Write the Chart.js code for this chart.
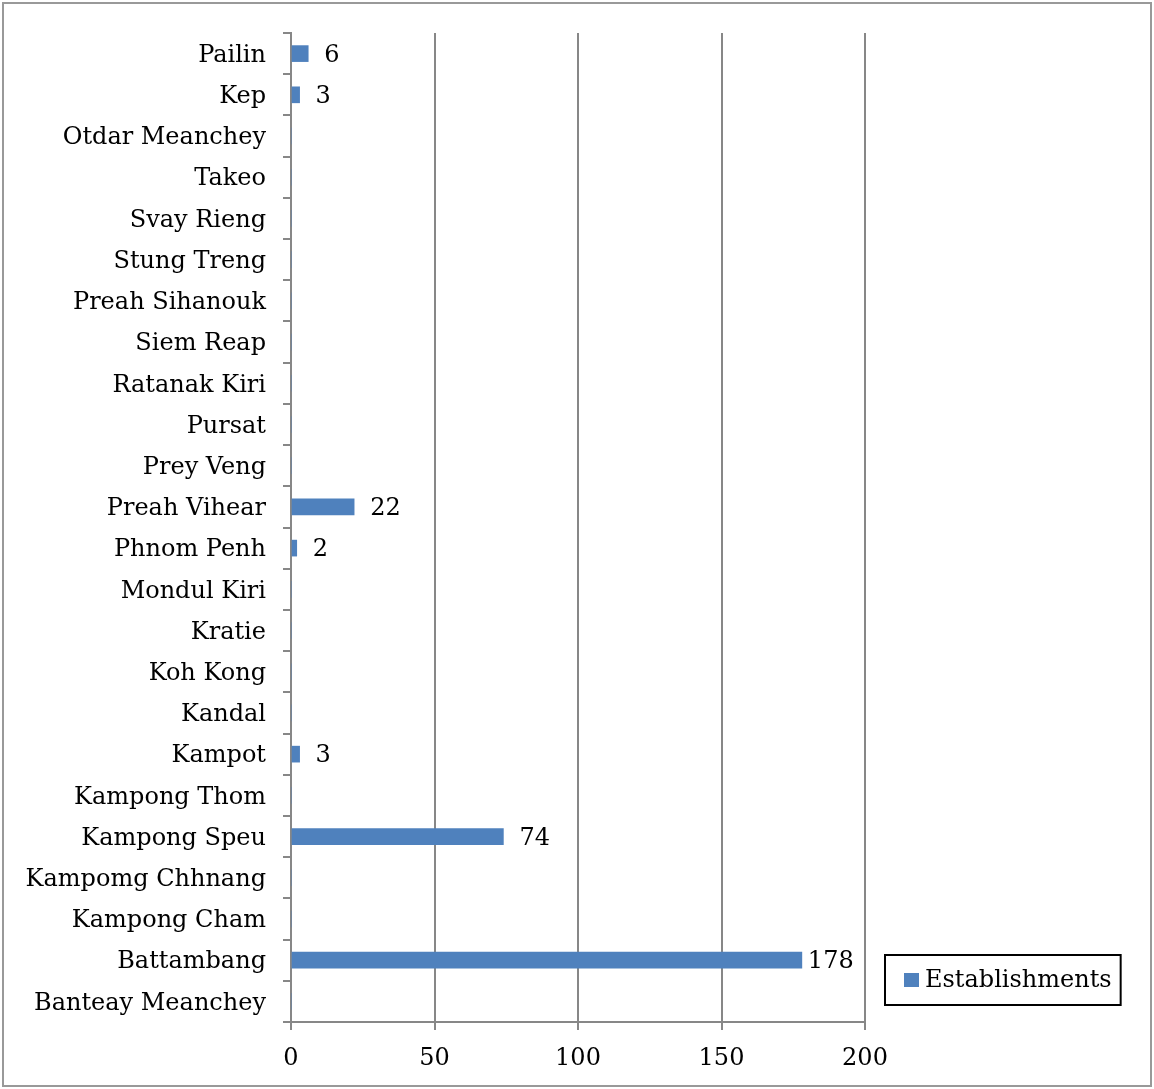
<!DOCTYPE html>
<html>
<head>
<meta charset="utf-8">
<script src="https://cdn.jsdelivr.net/npm/chart.js@4/dist/chart.umd.min.js"></script>
<style>
html,body{margin:0;padding:0;background:#fff;}
#wrap{position:relative;width:1154px;height:1089px;}
</style>
</head>
<body>
<div id="wrap"><canvas id="c" width="1154" height="1089"></canvas></div>
<script>
const provinces = ["Banteay Meanchey","Battambang","Kampong Cham","Kampomg Chhnang","Kampong Speu","Kampong Thom","Kampot","Kandal","Koh Kong","Kratie","Mondul Kiri","Phnom Penh","Preah Vihear","Prey Veng","Pursat","Ratanak Kiri","Siem Reap","Preah Sihanouk","Stung Treng","Svay Rieng","Takeo","Otdar Meanchey","Kep","Pailin"];
const establishments = [0,178,0,0,74,0,3,0,0,0,0,2,22,0,0,0,0,0,0,0,0,0,3,6];
const seriesName = "Establishments";
const xTicks = [0,50,100,150,200];

const FONT = "'DejaVu Serif', serif";
const FSIZE = 24;
const GRID = "#878787";
const BAR = "#4F81BD";

const decor = {
  id: 'decor',
  beforeDraw(chart){
    const ctx = chart.ctx;
    ctx.save();
    ctx.fillStyle = '#fff';
    ctx.fillRect(0,0,chart.width,chart.height);
    ctx.restore();
  },
  afterDraw(chart){
    const ctx = chart.ctx;
    const ca = chart.chartArea;
    ctx.save();
    // outer border
    ctx.strokeStyle = '#999';
    ctx.lineWidth = 2;
    ctx.strokeRect(3,3,chart.width-6,chart.height-6);
    // value labels
    const meta = chart.getDatasetMeta(0);
    ctx.font = FSIZE + "px " + FONT;
    ctx.fillStyle = '#000';
    ctx.textBaseline = 'middle';
    ctx.textAlign = 'left';
    meta.data.forEach((el, i) => {
      const v = chart.data.datasets[0].data[i];
      if (!v) return;
      const t = String(v);
      const w = ctx.measureText(t).width;
      let x = el.x + 16;
      if (x + w > ca.right - 12) x = Math.max(el.x + 6, ca.right - 12 - w);
      ctx.fillText(t, x, el.y + 2);
    });
    // legend
    const tw = ctx.measureText(seriesName).width;
    const lx = ca.right + 20, ly = ca.bottom - 67;
    const lw = 19 + 15 + 6 + tw + 9, lh = 50;
    ctx.strokeStyle = '#000';
    ctx.lineWidth = 2;
    ctx.strokeRect(lx, ly, lw, lh);
    ctx.fillStyle = BAR;
    ctx.fillRect(lx + 19, ly + lh/2 - 7, 15, 14);
    ctx.fillStyle = '#000';
    ctx.fillText(seriesName, lx + 40, ly + lh/2 + 1);
    ctx.restore();
  }
};

new Chart(document.getElementById('c'), {
  type: 'bar',
  data: {
    labels: provinces,
    datasets: [{
      label: seriesName,
      data: establishments,
      backgroundColor: BAR,
      borderWidth: 0,
      barThickness: 16
    }]
  },
  options: {
    indexAxis: 'y',
    responsive: false,
    animation: false,
    devicePixelRatio: 1,
    layout: { padding: { left: 0, right: 289, top: 33, bottom: 0 } },
    plugins: { legend: { display: false }, tooltip: { enabled: false } },
    scales: {
      x: {
        min: 0, max: 200,
        afterBuildTicks(scale){ scale.ticks = xTicks.map(v => ({value: v})); },
        afterFit(scale){ scale.height = 1089 - 1022; },
        grid: { color: GRID, lineWidth: 2, tickLength: 8, drawOnChartArea: true },
        border: { color: GRID, width: 2 },
        ticks: { color: '#000', font: { family: FONT, size: FSIZE }, padding: 14, maxRotation: 0 }
      },
      y: {
        reverse: true,
        afterFit(scale){ scale.width = 291; },
        grid: { color: GRID, lineWidth: 2, tickLength: 8, drawOnChartArea: false, offset: true },
        border: { color: GRID, width: 2 },
        ticks: { color: '#000', font: { family: FONT, size: FSIZE }, padding: 17, labelOffset: 2, autoSkip: false }
      }
    }
  },
  plugins: [decor]
});
</script>
</body>
</html>
